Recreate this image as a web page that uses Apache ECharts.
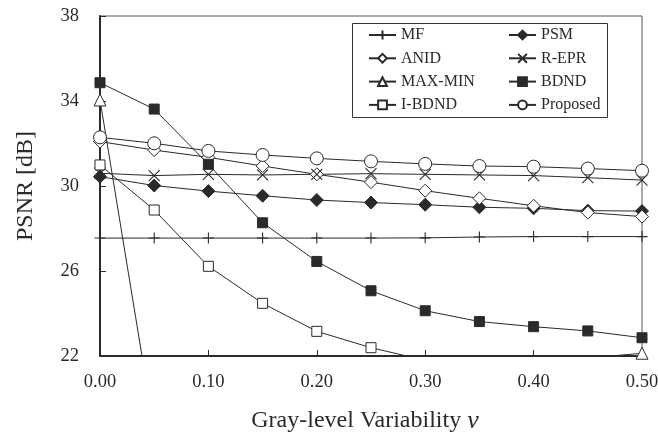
<!DOCTYPE html>
<html>
<head>
<meta charset="utf-8">
<script src="https://cdn.jsdelivr.net/npm/echarts@6/dist/echarts.min.js"></script>
<style>html,body{margin:0;padding:0;background:#fff;}#c{width:658px;height:436px;}</style>
</head>
<body>
<div id="c"></div>
<script>
const xValues = [0.00, 0.05, 0.10, 0.15, 0.20, 0.25, 0.30, 0.35, 0.40, 0.45, 0.50];
const mf       = [27.55, 27.55, 27.55, 27.55, 27.55, 27.55, 27.56, 27.60, 27.62, 27.62, 27.62];
const psm      = [30.44, 30.02, 29.76, 29.54, 29.34, 29.22, 29.12, 29.00, 28.95, 28.84, 28.82];
const anid     = [32.09, 31.69, 31.35, 30.94, 30.55, 30.18, 29.78, 29.42, 29.07, 28.75, 28.56];
const repr     = [30.60, 30.49, 30.55, 30.52, 30.55, 30.58, 30.55, 30.52, 30.49, 30.39, 30.28];
const maxmin   = [34.05, 18.50, 19.50, 19.80, 20.00, 20.20, 20.30, 20.40, 20.50, 21.90, 22.13];
const bdnd     = [34.86, 33.62, 31.02, 28.27, 26.45, 25.07, 24.13, 23.62, 23.38, 23.18, 22.86];
const ibdnd    = [30.99, 28.87, 26.22, 24.48, 23.16, 22.39, 21.80, 21.50, 21.30, 21.20, 21.10];
const proposed = [32.29, 32.01, 31.65, 31.46, 31.30, 31.16, 31.04, 30.94, 30.91, 30.82, 30.72];
const yTicks = [22, 26, 30, 34, 38];

const FONT = 'Liberation Serif';
const INK = '#2a2a2a';
const pair = arr => xValues.map((x, i) => [x, arr[i]]);

const PLUS = 'path://M0,5L10,5M5,0L5,10';
const CROSS = 'path://M0,0L10,10M10,0L0,10';

function mk(name, data, symbol, size, filled, stroke) {
  return {
    name, type: 'line', data: pair(data), symbol, symbolSize: size,
    clip: true,
    lineStyle: { color: INK, width: 1 },
    itemStyle: stroke
      ? { color: INK, borderColor: INK, borderWidth: 1.1 }
      : { color: filled ? INK : '#fff', borderColor: INK, borderWidth: 1 },
    emphasis: { disabled: true },
    animation: false
  };
}

const series = [
  mk('MF', mf, PLUS, 11, true, true),
  mk('PSM', psm, 'diamond', 13, true),
  mk('ANID', anid, 'diamond', 13, false),
  mk('R-EPR', repr, CROSS, 11, true, true),
  mk('MAX-MIN', maxmin, 'triangle', 12, false),
  mk('BDND', bdnd, 'rect', 10, true),
  mk('I-BDND', ibdnd, 'rect', 10, false),
  mk('Proposed', proposed, 'circle', 13, false)
];

const legendCommon = {
  orient: 'vertical', itemWidth: 27, itemHeight: 11, itemGap: 7.3, padding: 0,
  textStyle: { fontFamily: FONT, fontSize: 16, color: INK, lineHeight: 16 },
  selectedMode: false, z: 20
};

const chart = echarts.init(document.getElementById('c'), null, { renderer: 'canvas' });
chart.setOption({
  animation: false,
  backgroundColor: '#fff',
  grid: { left: 100, right: 16, top: 16, bottom: 80, show: true, borderColor: '#555', borderWidth: 1,
          backgroundColor: 'transparent', containLabel: false, outerBoundsMode: 'none' },
  graphic: [{
    type: 'rect', left: 352, top: 23, z: 15,
    shape: { width: 255, height: 94 },
    style: { fill: '#fff', stroke: '#333', lineWidth: 1 }
  }],
  legend: [
    Object.assign({ left: 368, top: 27, data: ['MF', 'ANID', 'MAX-MIN', 'I-BDND'] }, legendCommon),
    Object.assign({ left: 508, top: 27, data: ['PSM', 'R-EPR', 'BDND', 'Proposed'] }, legendCommon)
  ],
  xAxis: {
    type: 'value', min: 0, max: 0.5, interval: 0.1,
    name: 'Gray-level Variability {i|v}', nameLocation: 'middle', nameGap: 52,
    nameTextStyle: { fontFamily: FONT, fontSize: 24, color: INK, padding: [0, 12, 0, 0],
      rich: { i: { fontFamily: FONT, fontSize: 26, fontStyle: 'italic', color: INK } } },
    axisLine: { lineStyle: { color: INK, width: 2 } },
    axisTick: { inside: true, length: 6, lineStyle: { color: INK, width: 1 } },
    axisLabel: { margin: 17, fontFamily: FONT, fontSize: 18.5, color: INK, formatter: v => v.toFixed(2) },
    splitLine: { show: false }
  },
  yAxis: {
    type: 'value', min: yTicks[0], max: yTicks[yTicks.length - 1], interval: 4,
    name: 'PSNR [dB]', nameLocation: 'middle', nameGap: 62,
    nameTextStyle: { fontFamily: FONT, fontSize: 24, color: INK },
    axisLine: { show: true, lineStyle: { color: INK, width: 2 } },
    axisTick: { show: true, inside: true, length: 6, lineStyle: { color: INK, width: 1 } },
    axisLabel: { margin: 21, fontFamily: FONT, fontSize: 18.5, color: INK },
    splitLine: { show: false }
  },
  series
});
</script>
</body>
</html>
